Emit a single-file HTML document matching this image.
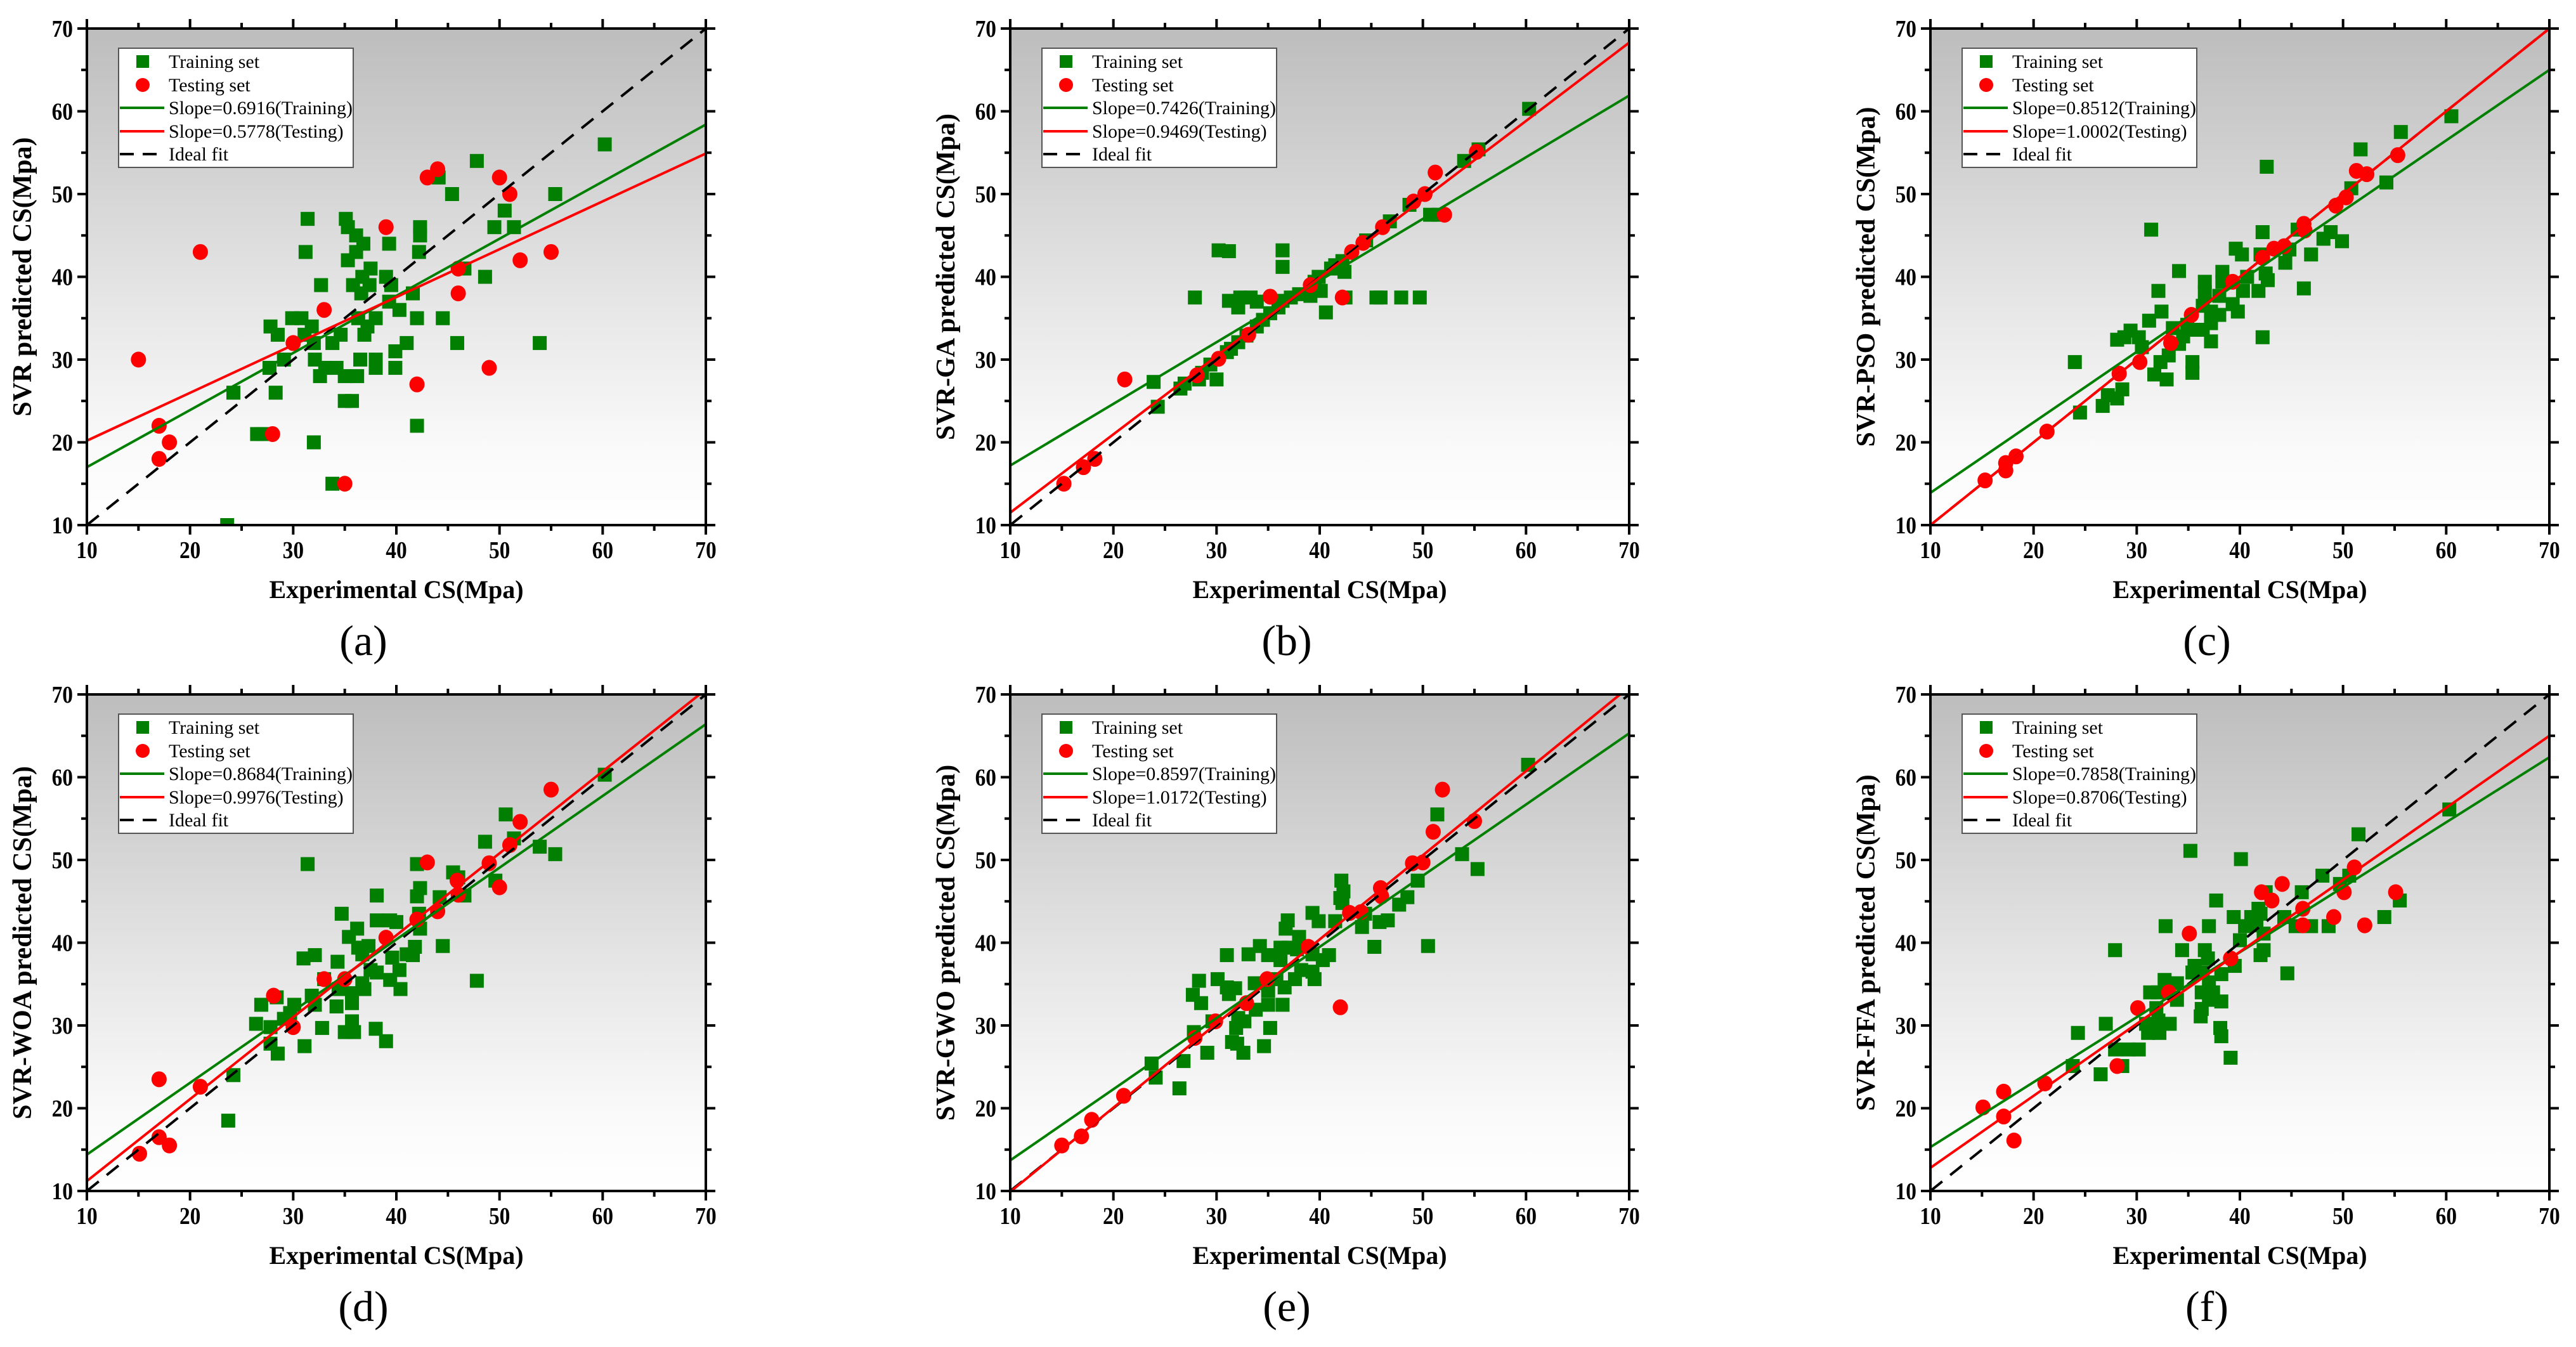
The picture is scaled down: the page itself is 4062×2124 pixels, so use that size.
<!DOCTYPE html>
<html><head><meta charset="utf-8"><style>
html,body{margin:0;padding:0;background:#fff;}
svg{display:block;}
</style></head><body>
<svg id="fig" width="4062" height="2124" viewBox="0 0 4062 2124" xmlns="http://www.w3.org/2000/svg">
<defs>
<linearGradient id="bg" x1="0" y1="0" x2="0" y2="1">
<stop offset="0" stop-color="#bdbdbd"/><stop offset="0.55" stop-color="#e6e6e6"/><stop offset="0.85" stop-color="#fafafa"/><stop offset="1" stop-color="#ffffff"/>
</linearGradient>
</defs>
</svg>
<script>
// ---- data ----
const panelA_trainX=[47.8,60.2,44.1,45.4,55.4,50.5,49.5,51.4,31.4,35.1,35.3,36.1,36.8,39.3,42.3,42.3,42.2,31.2,35.3,36.1,37.5,36.7,39,46.6,48.6,32.7,35.8,37.4,39.5,36.6,41.6,39.3,40.3,29.9,30.8,36.3,38,42,44.5,27.8,31.8,37.2,28.5,31.1,34.6,36.9,32,33.8,41,45.9,53.9,39.9,29.1,32.1,36.5,38,27.7,33.1,34.2,38,39.9,32.6,35,36.2,24.2,28.3,35,35.7,26.5,27,32,42,33.8,23.6];
const panelA_trainY=[54,56,52,50,50,48,46,46,47,47,46,45,44,44,46,45,43,43,42,43,41,40,40,41,40,39,39,39,39,38,38,37,36,35,35,35,35,35,35,34,34,34,33,33,33,33,32,32,32,32,32,31,30,30,30,30,29,29,29,29,29,28,28,28,26,26,25,25,21,21,20,22,15,10];
const panelA_testX=[15,21,17,18,17,28,30,33,39,43,44,50,51,46,46,52,55,42,49,35];
const panelA_testY=[30,43,22,20,18,21,32,36,46,52,53,52,50,41,38,42,43,27,29,15];

const panelB_trainX=[60.3,55.4,54,48.7,46.8,44.5,50.7,51.5,42.4,42.2,41.5,41.1,39.9,39.5,40.1,39.1,38,37.2,36.4,36,35.2,34.5,33.9,32.9,32.1,31.4,31,29.4,28.6,28.3,26.9,26.5,30,23.9,24.3,27.9,31.2,32.3,33.3,32.1,33.9,30.2,31.2,36.4,36.4,40.6,42.5,45.5,45.9,47.9,49.7];
const panelB_trainY=[60.3,55.4,54,48.7,46.7,44.4,47.5,47.5,40.6,41.9,41.4,41,40,39.4,38.3,37.7,37.9,37.5,37.1,36.3,35.6,34.8,34,32.9,32.1,31.3,30.9,29.4,28.4,27.6,27.1,26.5,27.6,27.3,24.3,37.5,37.1,37.5,37.5,36.3,37,43.2,43.1,43.2,41.2,35.7,37.5,37.5,37.5,37.5,37.5];
const panelB_testX=[15.2,17.1,18.2,21.1,28.1,30.2,33.1,35.2,39.1,42.2,43.1,44.2,46.1,49.1,50.2,51.2,52.1,55.2];
const panelB_testY=[15,17,18,27.6,28.1,30.1,33,37.6,39,37.5,43,44.1,46,49.1,50,52.6,47.5,55.1];

const panelC_trainX=[60.5,55.6,51.7,42.6,54.2,50.8,31.4,42.2,45.6,48.1,48.8,49.9,39.6,40.2,42,44.8,46.9,44.4,34.1,36.6,38.3,38.3,40.7,42.5,42.7,32.1,36.6,38,40.3,41.8,46.2,32.4,36.4,37.2,38,39.3,39.8,31.2,33.5,34.9,35.6,36.4,37.2,29.4,28.1,28.8,30.2,30.5,34.5,34.1,37.2,42.2,24,32.3,33.1,35.4,35.4,31.7,32.9,28.6,27.2,28.1,26.7,24.5];
const panelC_trainY=[59.4,57.5,55.4,53.3,51.4,50.7,45.7,45.4,45.7,44.6,45.4,44.3,43.4,42.7,42.7,43.3,42.7,41.7,40.7,39.4,40.6,39.4,40,40.4,39.6,38.3,38.1,37.7,38.3,38.3,38.6,35.8,36.5,35.8,35.4,36.7,35.8,34.7,33.8,34.2,33.6,33.6,34.4,33.5,32.4,32.7,32.7,31.5,32.8,31.9,32.2,32.7,29.7,29.7,30.5,29.7,28.4,28.2,27.6,26.4,25.7,25.3,24.4,23.6];
const panelC_testX=[15.3,17.3,17.3,18.3,21.3,28.3,30.3,33.3,35.3,39.3,42.2,43.3,44.3,46.2,46.3,49.3,50.3,51.3,52.3,55.3];
const panelC_testY=[15.4,17.5,16.6,18.3,21.3,28.3,29.7,32,35.4,39.4,42.3,43.4,43.7,46.4,45.6,48.6,49.6,52.8,52.4,54.7];

const panelD_trainX=[60.2,50.6,48.6,51.4,53.9,55.4,31.4,42,45.5,46,49.6,38.1,42.3,42,44.2,46.6,34.7,38.1,39.4,40,42.2,42.3,36.2,35.4,36.3,37.3,36.7,41.8,44.5,41,41.6,31,32.1,34.3,39.6,37.5,38.1,40.3,33,36.7,39.4,47.8,34.4,35.7,36.9,40.4,26.9,28.4,30.1,31.8,32.1,34.2,35.7,26.4,27.8,29.1,29.7,32.8,35.7,35,35.9,38,27.8,28.5,31.1,39,24.2,23.7];
const panelD_trainY=[60.3,55.5,52.2,52.6,51.6,50.7,49.5,49.5,48.5,47.9,47.5,45.7,46.6,45.6,45.5,45.7,43.5,42.7,42.7,42.5,43.5,41.7,41.7,40.7,39.4,39.6,38.6,39.5,39.6,38.6,38.5,38.1,38.5,37.7,38.2,36.7,36.4,36.7,35.6,35.1,35.5,35.4,34.4,33.9,34.4,34.4,32.5,33.4,32.5,33.6,32.5,32.3,32.7,30.2,29.8,30.8,31.5,29.7,30.5,29.2,29.2,29.6,27.8,26.6,27.5,28.1,24,18.5];
const panelD_testX=[15.1,17,18,17,21,28.1,30,33,35,39,42,43,44,45.9,46,49,50,51,52,55];
const panelD_testY=[14.5,16.5,15.5,23.5,22.6,33.6,29.8,35.6,35.6,40.6,42.8,49.7,43.8,47.5,45.8,49.6,46.7,51.8,54.6,58.5];

const panelE_trainX=[60.2,51.4,53.8,55.3,49.5,48.5,47.7,42.1,42.3,42,42.2,44.4,44.1,45.8,46.6,45.3,50.5,39.3,39.9,41.5,36.9,36.7,38,34.2,36.2,37,37.8,39.3,40.9,40.3,31,33.1,35,36.2,38.2,39.3,39.5,37.6,28.3,30.1,31,31.8,33.7,35.8,36.6,35,27.7,28.5,31.2,33.8,35,36.4,32.1,32.7,31.9,35.2,27.8,29.6,31.5,32,34.6,32.6,29.1,26.8,23.7,24.1,26.4];
const panelE_trainY=[61.5,55.5,50.7,48.9,47.5,45.5,44.6,47.5,46.2,45.4,44.8,43.5,41.9,42.5,42.7,39.5,39.6,43.6,42.6,42.6,42.7,41.7,40.7,39.6,39.4,39.4,39.2,38.6,38.5,37.9,38.5,38.6,38.5,37.9,36.7,36.5,35.6,35.6,35.4,35.6,34.6,34.5,35.1,35.6,34.6,34.2,33.7,32.7,33.8,31.9,32.5,32.5,30.9,30.5,29.7,29.7,29.2,30.5,28,27.8,27.5,26.7,26.7,25.7,25.4,23.7,22.4];
const panelE_testX=[15,16.9,17.9,21,27.9,29.9,32.9,34.9,38.9,42,42.9,44,45.9,46,49,50,51,51.9,55];
const panelE_testY=[15.5,16.6,18.6,21.5,28.5,30.5,32.7,35.6,39.5,32.2,43.6,43.7,46.6,45.6,49.6,49.7,53.4,58.5,54.7];

const panelF_trainX=[60.3,51.5,35.2,40.1,48,50.6,49.7,42.5,46,37.7,55.5,41.8,42,39.4,41.1,44.3,54,32.8,37,40.5,41.6,45.4,46.9,48.6,42.3,40,27.9,34.4,36.6,36.9,42.3,42,39.5,44.6,35.6,35.4,36.4,38.2,32.7,33.9,37,31.3,32.1,36.3,37.4,33.9,37,38.2,31.9,36.3,36.2,27,30.9,32.1,33.2,24.3,31.1,32.2,38.1,38.2,27.9,29.2,30.2,28.6,23.8,26.5,39.1];
const panelF_trainY=[56.1,53.1,51.1,50.1,48.1,48.1,47.1,46.1,46.1,45.1,45.1,44.1,43.5,43.1,43.1,43.1,43.1,42,42,42,42.1,42,42,42,41.1,40.3,39.1,39.1,39.1,38.1,39.1,38.5,37.2,36.3,37.2,36.4,36.4,36.2,35.5,35.1,35.2,34,34,34,34,33.1,33.1,32.9,32.1,32,31.1,30.2,30.2,30.6,30.2,29.1,29.1,29.1,29.7,28.7,27.1,27.1,27.1,25.1,25.1,24.1,26.1];
const panelF_testX=[15.1,17.1,17.1,18.1,21.1,28.1,30.1,33.1,35.1,39.1,42.1,43.1,44.1,46.1,46.1,49.1,50.1,51.1,52.1,55.1];
const panelF_testY=[20.1,22,19,16.1,23,25.1,32.1,34,41.1,38.1,46.1,45.1,47.1,44.1,42.1,43.1,46.1,49.1,42.1,46.1];

// fitted lines: [value at x=10, value at x=70]
const fitTrainEnds=[[17,58.4],[17.2,61.9],[13.9,65],[14.4,66.4],[13.7,65.3],[15.3,62.4]];
const fitTestEnds=[[20.2,54.9],[11.5,68.3],[10,70],[11.2,70.6],[9.9,70.9],[12.8,65]];
const slopeTrainLabels=["0.6916","0.7426","0.8512","0.8684","0.8597","0.7858"];
const slopeTestLabels=["0.5778","0.9469","1.0002","0.9976","1.0172","0.8706"];
const yTitles=["SVR predicted CS(Mpa)","SVR-GA predicted CS(Mpa)","SVR-PSO predicted CS(Mpa)","SVR-WOA predicted CS(Mpa)","SVR-GWO predicted CS(Mpa)","SVR-FFA predicted CS(Mpa)"];
const panelLetters=["(a)","(b)","(c)","(d)","(e)","(f)"];
const tickValues=[10,20,30,40,50,60,70];
const minorTickValues=[15,25,35,45,55,65];

const trainXs=[panelA_trainX,panelB_trainX,panelC_trainX,panelD_trainX,panelE_trainX,panelF_trainX];
const trainYs=[panelA_trainY,panelB_trainY,panelC_trainY,panelD_trainY,panelE_trainY,panelF_trainY];
const testXs=[panelA_testX,panelB_testX,panelC_testX,panelD_testX,panelE_testX,panelF_testX];
const testYs=[panelA_testY,panelB_testY,panelC_testY,panelD_testY,panelE_testY,panelF_testY];

const NS="http://www.w3.org/2000/svg";
const svg=document.getElementById('fig');
function mk(tag,attrs,parent){const e=document.createElementNS(NS,tag);for(const k in attrs)e.setAttribute(k,attrs[k]);(parent||svg).appendChild(e);return e;}
const lefts=[137,1593,3044], tops=[45,1095], W=976, H=783, MIN=10, MAX=70;
const serif='"Liberation Serif", serif';

for(let p=0;p<6;p++){
  const L=lefts[p%3], T=tops[Math.floor(p/3)];
  const sx=v=>L+(v-MIN)/(MAX-MIN)*W;
  const sy=v=>T+H-(v-MIN)/(MAX-MIN)*H;
  const g=mk('g',{});
  
  
  const cid='clip'+p;
  const cp=mk('clipPath',{id:cid},g); mk('rect',{x:L,y:T,width:W,height:H},cp);
  const bg=mk('rect',{x:L,y:T,width:W,height:H,fill:'url(#bg)'},g);
  
  
  const data=mk('g',{'clip-path':'url(#'+cid+')'},g);
  const tx=trainXs[p], ty=trainYs[p];
  for(let i=0;i<tx.length;i++){
    const r=mk('rect',{x:sx(tx[i])-11,y:sy(ty[i])-11,width:22,height:22,fill:'#007f00'},data);
    
    
  }
  const ex=testXs[p], ey=testYs[p];
  for(let i=0;i<ex.length;i++){
    const c=mk('ellipse',{cx:sx(ex[i]),cy:sy(ey[i]),rx:12,ry:12.5,fill:'#ff0000'},data);
    
    
  }
  const ideal=mk('line',{x1:sx(10),y1:sy(10),x2:sx(70),y2:sy(70),stroke:'#000','stroke-width':4,'stroke-dasharray':'24 16'},data);
  
  
  const gl=mk('line',{x1:sx(10),y1:sy(fitTrainEnds[p][0]),x2:sx(70),y2:sy(fitTrainEnds[p][1]),stroke:'#007f00','stroke-width':4},data);
  
  
  const rl=mk('line',{x1:sx(10),y1:sy(fitTestEnds[p][0]),x2:sx(70),y2:sy(fitTestEnds[p][1]),stroke:'#ff0000','stroke-width':4},data);
  
  
  const fr=mk('rect',{x:L,y:T,width:W,height:H,fill:'none',stroke:'#000','stroke-width':4},g);
  
  
  const tk=mk('g',{stroke:'#000','stroke-width':4},g);
  
  
  const tickSet=(vals,len)=>{for(const v of vals){
    mk('line',{x1:sx(v),y1:T+H,x2:sx(v),y2:T+H+len},tk);
    mk('line',{x1:sx(v),y1:T,x2:sx(v),y2:T-len},tk);
    mk('line',{x1:L,y1:sy(v),x2:L-len,y2:sy(v)},tk);
    mk('line',{x1:L+W,y1:sy(v),x2:L+W+len,y2:sy(v)},tk);
  }};
  tickSet(tickValues,15); tickSet(minorTickValues,9);
  for(const v of tickValues){
    const xl=mk('text',{x:0,y:0,'font-family':serif,'font-size':38,'font-weight':'bold','text-anchor':'middle',fill:'#000',transform:'translate('+sx(v)+','+(T+H+52)+') scale(0.88,1)'},g);
    xl.textContent=v;
    
    
    const yl=mk('text',{x:0,y:0,'font-family':serif,'font-size':38,'font-weight':'bold','text-anchor':'end',fill:'#000',transform:'translate('+(L-22)+','+(sy(v)+13)+') scale(0.88,1)'},g);
    yl.textContent=v;
    
    
  }
  const xt=mk('text',{x:L+W/2,y:T+H+115,'font-family':serif,'font-size':40,'font-weight':'bold','text-anchor':'middle',fill:'#000'},g);
  xt.textContent='Experimental CS(Mpa)';
  
  
  const yt=mk('text',{x:0,y:0,'font-family':serif,'font-size':42,'font-weight':'bold','text-anchor':'middle',fill:'#000',transform:'translate('+(L-88)+','+(T+H/2)+') rotate(-90)'},g);
  yt.textContent=yTitles[p];
  
  
  const lt=mk('text',{x:L+W/2-52,y:T+H+205,'font-family':serif,'font-size':68,'text-anchor':'middle',fill:'#000'},g);
  lt.textContent=panelLetters[p];
  
  
  const lg=mk('g',{},g);
  
  
  const bx=L+50, by=T+31;
  mk('rect',{x:bx,y:by,width:370,height:188,fill:'#fff',stroke:'#555','stroke-width':2},lg);
  const rows=['Training set','Testing set','Slope='+slopeTrainLabels[p]+'(Training)','Slope='+slopeTestLabels[p]+'(Testing)','Ideal fit'];
  const rowY=[52,89,125,162,198];
  for(let i=0;i<5;i++){
    const cy=T+rowY[i];
    if(i===0) mk('rect',{x:L+78,y:cy-10,width:20,height:20,fill:'#007f00'},lg);
    if(i===1) mk('ellipse',{cx:L+88,cy:cy,rx:11,ry:11,fill:'#ff0000'},lg);
    if(i===2) mk('line',{x1:L+52,y1:cy,x2:L+122,y2:cy,stroke:'#007f00','stroke-width':4},lg);
    if(i===3) mk('line',{x1:L+52,y1:cy,x2:L+122,y2:cy,stroke:'#ff0000','stroke-width':4},lg);
    if(i===4) mk('line',{x1:L+52,y1:cy,x2:L+122,y2:cy,stroke:'#000','stroke-width':4,'stroke-dasharray':'22 14'},lg);
    const t=mk('text',{x:L+129,y:cy+10,'font-family':serif,'font-size':30,fill:'#000'},lg);
    t.textContent=rows[i];
    
    
  }
}
</script>
</body></html>
